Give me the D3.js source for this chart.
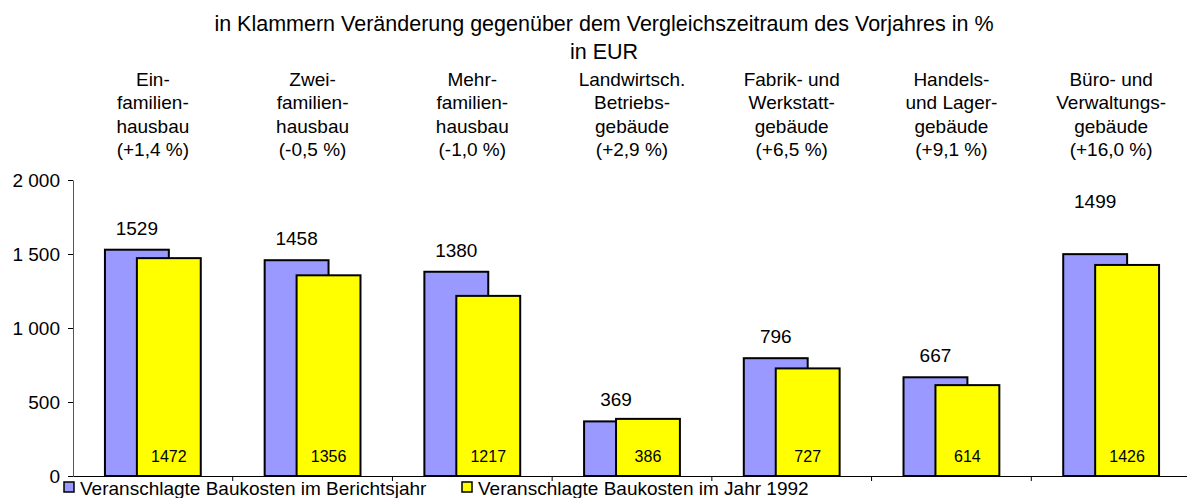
<!DOCTYPE html>
<html>
<head>
<meta charset="utf-8">
<script src="https://cdn.jsdelivr.net/npm/d3@7"></script>
<style>
  html, body { margin: 0; padding: 0; background: #fff; }
  svg { display: block; font-family: "Liberation Sans", Arial, sans-serif; }
</style>
</head>
<body>
<svg id="chart" width="1187" height="498"></svg>
<script>
// ---- data ----
const titleLines = [
  "in Klammern Veränderung gegenüber dem Vergleichszeitraum des Vorjahres in %",
  "in EUR"
];
const categories = [
  ["Ein-", "familien-", "hausbau", "(+1,4 %)"],
  ["Zwei-", "familien-", "hausbau", "(-0,5 %)"],
  ["Mehr-", "familien-", "hausbau", "(-1,0 %)"],
  ["Landwirtsch.", "Betriebs-", "gebäude", "(+2,9 %)"],
  ["Fabrik- und", "Werkstatt-", "gebäude", "(+6,5 %)"],
  ["Handels-", "und Lager-", "gebäude", "(+9,1 %)"],
  ["Büro- und", "Verwaltungs-", "gebäude", "(+16,0 %)"]
];
const seriesNames = [
  "Veranschlagte Baukosten im Berichtsjahr",
  "Veranschlagte Baukosten im Jahr 1992"
];
const valuesBerichtsjahr = [1529, 1458, 1380, 369, 796, 667, 1499];
const values1992 = [1472, 1356, 1217, 386, 727, 614, 1426];
const yTicks = [0, 500, 1000, 1500, 2000];

// ---- layout ----
(function () {
const svg = d3.select("#chart");
const pLeft = 73, pRight = 1191, pTop = 180, pBottom = 476;
const colors = ["#9999FF", "#FFFF00"];
const fmt = d3.formatLocale({ thousands: " ", grouping: [3], decimal: ",", currency: ["", ""] }).format(",d");

const idx = categories.map((d, i) => i);
const x = d3.scaleBand().domain(idx).range([pLeft, pRight]).paddingInner(0).paddingOuter(0);
const y = d3.scaleLinear().domain([0, 2000]).range([pBottom, pTop]);
const bw = x.bandwidth();
const barW = bw / 2.5;

// title
svg.append("g").selectAll("text").data(titleLines).join("text")
  .attr("x", 604).attr("y", (d, i) => 31 + i * 27.5)
  .attr("text-anchor", "middle").attr("font-size", 21.5).attr("fill", "#000")
  .text(d => d);

// category labels
const catG = svg.append("g");
categories.forEach((lines, i) => {
  catG.append("text")
    .attr("text-anchor", "middle").attr("font-size", 19).attr("fill", "#000")
    .selectAll("tspan").data(lines).join("tspan")
    .attr("x", x(i) + bw / 2)
    .attr("y", (d, j) => 86 + j * 23.3)
    .text(d => d);
});

// y axis
const yAxis = d3.axisLeft(y).tickValues(yTicks).tickFormat(fmt).tickSizeInner(5).tickSizeOuter(0).tickPadding(8);
const gy = svg.append("g").attr("transform", `translate(${pLeft},0)`).call(yAxis);
gy.selectAll("text").attr("font-size", 19).attr("font-family", "Liberation Sans, Arial, sans-serif").attr("fill", "#000");
gy.selectAll("line").attr("stroke", "#000");
gy.select(".domain").attr("stroke", "#555");

// bars
const barsG = svg.append("g");
barsG.selectAll("rect.b1").data(valuesBerichtsjahr).join("rect")
  .attr("class", "b1")
  .attr("x", (d, i) => x(i) + bw * 0.2)
  .attr("y", d => y(d))
  .attr("width", barW)
  .attr("height", d => y(0) - y(d))
  .attr("fill", colors[0]).attr("stroke", "#000").attr("stroke-width", 2);
barsG.selectAll("rect.b2").data(values1992).join("rect")
  .attr("class", "b2")
  .attr("x", (d, i) => x(i) + bw * 0.2 + barW / 2)
  .attr("y", d => y(d))
  .attr("width", barW)
  .attr("height", d => y(0) - y(d))
  .attr("fill", colors[1]).attr("stroke", "#000").attr("stroke-width", 2);

// x axis (ticks at category boundaries)
const xAxis = d3.axisBottom(x).tickSizeInner(5).tickSizeOuter(0).tickFormat("");
const gx = svg.append("g").attr("transform", `translate(0,${pBottom})`).call(xAxis);
gx.selectAll(".tick").attr("transform", d => `translate(${x(d) + bw},0)`);
gx.selectAll("line").attr("stroke", "#000");
gx.select(".domain").attr("stroke", "#000");

// value labels
const labG = svg.append("g").attr("fill", "#000");
labG.selectAll("text.l1").data(valuesBerichtsjahr).join("text")
  .attr("class", "l1")
  .attr("x", (d, i) => x(i) + bw * 0.2 + barW / 2)
  .attr("y", (d, i) => y(d) - 15 - (i === categories.length - 1 ? 31 : 0))
  .attr("text-anchor", "middle").attr("font-size", 19)
  .text(d => d);
labG.selectAll("text.l2").data(values1992).join("text")
  .attr("class", "l2")
  .attr("x", (d, i) => x(i) + bw * 0.2 + barW)
  .attr("y", pBottom - 14)
  .attr("text-anchor", "middle").attr("font-size", 16)
  .text(d => d);

// legend
const legendX = [64, 462];
const leg = svg.append("g");
seriesNames.forEach((name, i) => {
  leg.append("rect").attr("x", legendX[i]).attr("y", 482).attr("width", 10).attr("height", 10)
    .attr("fill", colors[i]).attr("stroke", "#000").attr("stroke-width", 1.5);
  leg.append("text").attr("x", legendX[i] + 16).attr("y", 495).attr("font-size", 19).attr("fill", "#000").text(name);
});
})();
</script>
</body>
</html>
